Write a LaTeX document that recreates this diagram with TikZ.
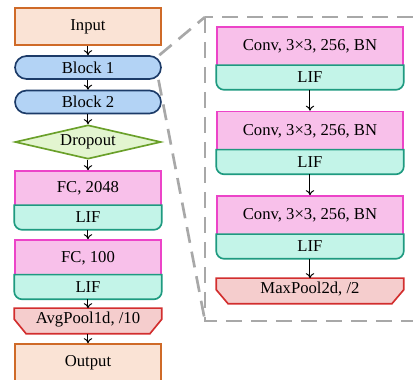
\documentclass[tikz,border=0pt]{standalone}
\usepackage{fontspec}
\setmainfont{Liberation Serif}
\usetikzlibrary{shapes.geometric,arrows.meta}
\definecolor{inFill}{HTML}{FAE3D5}
\definecolor{inLine}{HTML}{CF6A28}
\definecolor{blkFill}{HTML}{B3D3F5}
\definecolor{blkLine}{HTML}{1C3B68}
\definecolor{drFill}{HTML}{E3F5D0}
\definecolor{drLine}{HTML}{6AA02A}
\definecolor{fcFill}{HTML}{F8C0EA}
\definecolor{fcLine}{HTML}{EC44C8}
\definecolor{lifFill}{HTML}{C3F4E8}
\definecolor{lifLine}{HTML}{1E9A80}
\definecolor{plFill}{HTML}{F5CDCD}
\definecolor{plLine}{HTML}{D22E2E}
\definecolor{dashGray}{HTML}{A8A8A8}
\tikzset{
  x=0.6pt, y=-0.6pt,
  base/.style={rectangle, inner sep=0pt, line width=1pt, font=\fontsize{10}{12}\selectfont},
  iobox/.style={base, draw=inLine, fill=inFill, minimum width=87.6pt, minimum height=22.2pt},
  blkbox/.style={base, draw=blkLine, fill=blkFill, minimum width=87.6pt, minimum height=13.8pt, rounded corners=6.9pt},
  dropbox/.style={base, diamond, draw=drLine, fill=drFill, minimum width=87.6pt, minimum height=20.4pt, shape aspect=4.3},
  fcbox/.style={base, draw=fcLine, fill=fcFill, minimum width=87.6pt},
  convbox/.style={base, draw=fcLine, fill=fcFill, minimum width=111.6pt, minimum height=23.4pt},
  lifnode/.style={base, minimum height=13.8pt},
  lifshape/.style={draw=lifLine, fill=lifFill, line width=1pt},
  poolnode/.style={base, minimum height=14.4pt},
  poolshape/.style={draw=plLine, fill=plFill, line width=1pt},
  dashline/.style={draw=dashGray, line width=1.6pt, dash pattern=on 9.6pt off 5.4pt},
  arr/.style={-{To[length=3pt,width=5pt]}, line width=0.6pt, black},
}
\begin{document}
\begin{tikzpicture}
\useasboundingbox (0,0) rectangle (413,380);
\clip (0,0) rectangle (413,380);

% dashed expansion box
\coordinate (dtl) at (205,17);
\coordinate (dbr) at (430,321);
\coordinate (dbl) at (205,321);
\draw[dashline] (dtl) rectangle (dbr);

% left column
\node[iobox] (input) at (88,26.5) {Input};
\node[blkbox] (b1) at (88,67.5) {Block 1};
\node[blkbox] (b2) at (88,102) {Block 2};
\node[dropbox] (drop) at (88,142) {Dropout};

\node[fcbox, minimum height=21pt] (fc1) at (88,188.5) {FC, 2048};
\node[lifnode, minimum width=87.6pt] (lif1) at (88,217.5) {};
\filldraw[lifshape] (lif1.north west) [rounded corners=4.8pt] -- (lif1.south west) -- (lif1.south east) [sharp corners] -- (lif1.north east) -- cycle;
\node[base] at (lif1) {LIF};

\node[fcbox, minimum height=21.6pt] (fc2) at (88,258) {FC, 100};
\node[lifnode, minimum width=87.6pt] (lif2) at (88,287) {};
\filldraw[lifshape] (lif2.north west) [rounded corners=4.8pt] -- (lif2.south west) -- (lif2.south east) [sharp corners] -- (lif2.north east) -- cycle;
\node[base] at (lif2) {LIF};

\node[poolnode, minimum width=87.6pt] (avg) at (88,321) {};
\filldraw[poolshape] (avg.north west) -- (avg.north east) -- ([yshift=-6.6pt]avg.north east) -- ([xshift=-7.2pt]avg.south east) -- ([xshift=7.2pt]avg.south west) -- ([yshift=-6.6pt]avg.north west) -- cycle;
\node[base] at ([yshift=1pt]avg.center) {AvgPool1d, /10};

\node[iobox] (output) at (88,362.5) {Output};

% right column
\node[convbox] (c1) at (310,46.5) {Conv, 3×3, 256, BN};
\node[lifnode, minimum width=111.6pt] (l1) at (310,77.5) {};
\filldraw[lifshape] (l1.north west) [rounded corners=4.8pt] -- (l1.south west) -- (l1.south east) [sharp corners] -- (l1.north east) -- cycle;
\node[base] at (l1) {LIF};

\node[convbox] (c2) at (310,131) {Conv, 3×3, 256, BN};
\node[lifnode, minimum width=111.6pt] (l2) at (310,162) {};
\filldraw[lifshape] (l2.north west) [rounded corners=4.8pt] -- (l2.south west) -- (l2.south east) [sharp corners] -- (l2.north east) -- cycle;
\node[base] at (l2) {LIF};

\node[convbox] (c3) at (310,215.5) {Conv, 3×3, 256, BN};
\node[lifnode, minimum width=111.6pt] (l3) at (310,246.5) {};
\filldraw[lifshape] (l3.north west) [rounded corners=4.8pt] -- (l3.south west) -- (l3.south east) [sharp corners] -- (l3.north east) -- cycle;
\node[base] at (l3) {LIF};

\node[poolnode, minimum width=111.6pt] (mp) at (310,291) {};
\filldraw[poolshape] (mp.north west) -- (mp.north east) -- ([yshift=-6.9pt]mp.north east) -- ([xshift=-7.2pt]mp.south east) -- ([xshift=7.2pt]mp.south west) -- ([yshift=-6.9pt]mp.north west) -- cycle;
\node[base] at ([yshift=1pt]mp.center) {MaxPool2d, /2};

% arrows left
\draw[arr] (input) -- (b1);
\draw[arr] (b1) -- (b2);
\draw[arr] (b2) -- (drop);
\draw[arr] (drop) -- (fc1);
\draw[arr] (lif1) -- (fc2);
\draw[arr] (lif2) -- (avg);
\draw[arr] (avg) -- (output);
% arrows right
\draw[arr] (l1) -- (c2);
\draw[arr] (l2) -- (c3);
\draw[arr] (l3) -- (mp);

% zoom connectors
\draw[dashline] ([xshift=-1.5pt]b1.north east) -- (dtl);
\draw[dashline] ([xshift=-2pt]b1.south east) -- (dbl);
\end{tikzpicture}
\end{document}
